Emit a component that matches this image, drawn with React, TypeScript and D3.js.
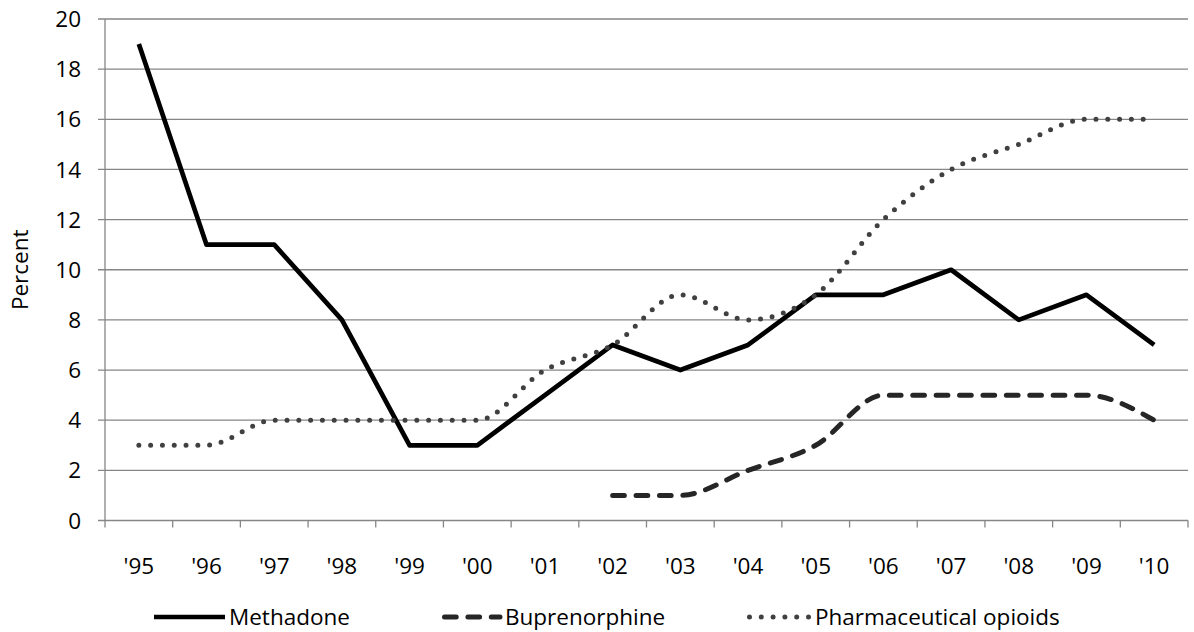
import React from "react";
import * as d3 from "d3";

const years = ["'95","'96","'97","'98","'99","'00","'01","'02","'03","'04","'05","'06","'07","'08","'09","'10"];
const methadone: (number | null)[] = [19, 11, 11, 8, 3, 3, 5, 7, 6, 7, 9, 9, 10, 8, 9, 7];
const buprenorphine: (number | null)[] = [null, null, null, null, null, null, null, 1, 1, 2, 3, 5, 5, 5, 5, 4];
const pharma: (number | null)[] = [3, 3, 4, 4, 4, 4, 6, 7, 9, 8, 9, 12, 14, 15, 16, 16];
const yTicks = [0, 2, 4, 6, 8, 10, 12, 14, 16, 18, 20];

const W = 1194, H = 632;
const left = 105, right = 1188, top = 19, bottom = 520.5;
const FONT = "'Open Sans', sans-serif";
const FS = 22.5;

export default function App() {
  const x = d3.scaleBand<string>().domain(years).range([left, right]).padding(0);
  const y = d3.scaleLinear().domain([0, 20]).range([bottom, top]);
  const cx = (i: number) => (x(years[i]) as number) + x.bandwidth() / 2;

  const mkLine = (curve: d3.CurveFactory) =>
    d3.line<number | null>()
      .defined((d) => d !== null)
      .x((_, i) => cx(i))
      .y((d) => y(d as number))
      .curve(curve);

  const straight = mkLine(d3.curveLinear);
  const smooth = mkLine(d3.curveMonotoneX);

  const series = [
    { name: "Methadone", data: methadone, path: straight, color: "#000", width: 4.7, dash: undefined as string | undefined, cap: "butt" },
    { name: "Buprenorphine", data: buprenorphine, path: smooth, color: "#262626", width: 5, dash: "11.7 11.7", cap: "round" },
    { name: "Pharmaceutical opioids", data: pharma, path: smooth, color: "#404040", width: 5, dash: "0 11.8", cap: "round" },
  ];

  const legend = [
    { x1: 154, x2: 225, tx: 229 },
    { x1: 442, x2: 500, tx: 505 },
    { x1: 747, x2: 810, tx: 815 },
  ];
  const legY = 617;

  return (
    <svg width={W} height={H} style={{ position: "absolute", left: 0, top: 0, background: "#fff" }}>
      <rect x={0} y={0} width={W} height={H} fill="#fff" />
      {yTicks.map((t) => (
        <g key={t}>
          <line x1={left - 7} x2={right} y1={y(t)} y2={y(t)} stroke="#868686" strokeWidth={1.3} />
          <text x={81} y={y(t)} dy="0.36em" textAnchor="end" fontFamily={FONT} fontSize={FS} fill="#000">{t}</text>
        </g>
      ))}
      <line x1={left} x2={left} y1={top} y2={bottom} stroke="#868686" strokeWidth={1.3} />
      {years.map((yr) => (
        <line key={"t" + yr} x1={x(yr) as number} x2={x(yr) as number} y1={bottom} y2={bottom + 7} stroke="#868686" strokeWidth={1.3} />
      ))}
      <line x1={right} x2={right} y1={bottom} y2={bottom + 7} stroke="#868686" strokeWidth={1.3} />
      {years.map((yr, i) => (
        <text key={"l" + yr} x={cx(i)} y={566} dy="0.36em" textAnchor="middle" fontFamily={FONT} fontSize={FS} fill="#000">{yr}</text>
      ))}
      <text transform={`translate(20,${(top + bottom) / 2}) rotate(-90)`} textAnchor="middle" dy="0.36em" fontFamily={FONT} fontSize={FS} fill="#000">Percent</text>
      {series.map((s) => (
        <path key={s.name} d={s.path(s.data) || ""} fill="none" stroke={s.color} strokeWidth={s.width}
          strokeDasharray={s.dash} strokeLinecap={s.cap as any} strokeLinejoin="round" />
      ))}
      {series.map((s, i) => (
        <g key={"lg" + s.name}>
          <line x1={legend[i].x1 + (s.cap === "round" ? 2.5 : 0)} x2={legend[i].x2} y1={legY} y2={legY} stroke={s.color} strokeWidth={s.width}
            strokeDasharray={s.dash} strokeLinecap={s.cap as any} />
          <text x={legend[i].tx} y={legY} dy="0.36em" fontFamily={FONT} fontSize={FS} fill="#000">{s.name}</text>
        </g>
      ))}
    </svg>
  );
}
